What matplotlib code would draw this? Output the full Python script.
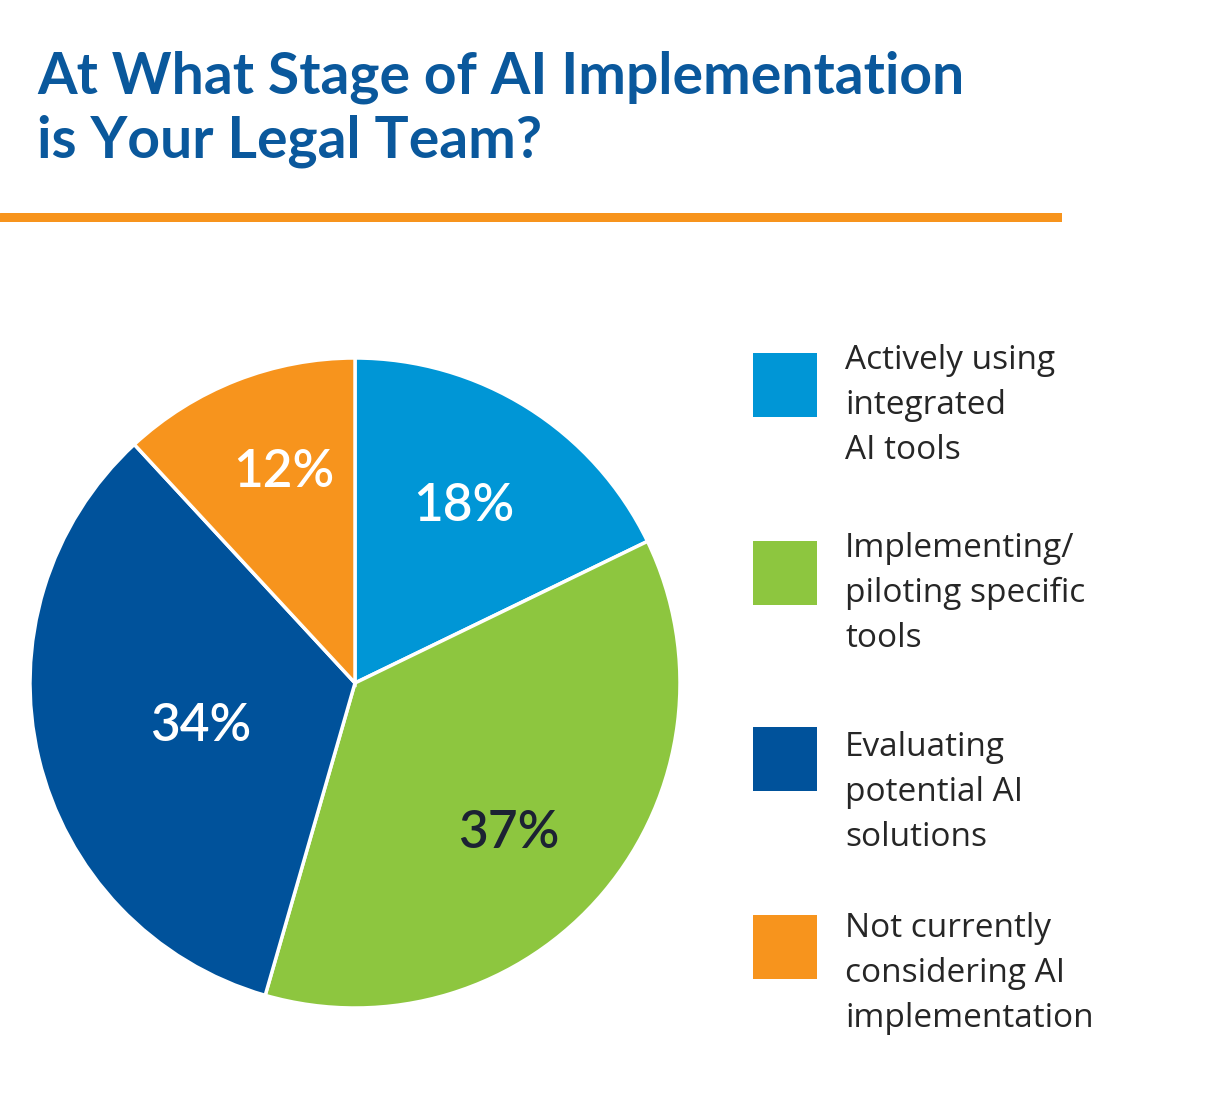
import matplotlib
matplotlib.use("Agg")
import matplotlib.pyplot as plt
import numpy as np

categories = ["Actively using\nintegrated\nAI tools",
              "Implementing/\npiloting specific\ntools",
              "Evaluating\npotential AI\nsolutions",
              "Not currently\nconsidering AI\nimplementation"]
values = [18, 37, 34, 12]
pct_labels = ["18%", "37%", "34%", "12%"]
colors = ["#0096D6", "#8DC63F", "#00529B", "#F7941D"]
label_colors = ["white", "#1c2233", "white", "white"]
label_dist = [0.65, 0.653, 0.489, 0.697]
label_shift_deg = [1.0, -3.4, 0.9, -3.1]

W, H = 1210, 1114
fig = plt.figure(figsize=(W / 100, H / 100), dpi=100)
fig.patch.set_facecolor("white")
FONT = "Lato"
LFONT = "Open Sans"

def fx(px):
    return px / W

def fy(py):
    return 1 - py / H

# Title
fig.text(fx(37), fy(93), "At What Stage of AI Implementation", fontsize=41,
         fontweight="bold", color="#0A589C", family=FONT, va="baseline", ha="left")
fig.text(fx(37), fy(157), "is Your Legal Team?", fontsize=41,
         fontweight="bold", color="#0A589C", family=FONT, va="baseline", ha="left")

# Orange rule
line_ax = fig.add_axes([0, fy(222), fx(1062), 9 / H])
line_ax.set_axis_off()
line_ax.add_patch(plt.Rectangle((0, 0), 1, 1, color="#F7941D", transform=line_ax.transAxes))

# Pie
cx, cy, r = 355, 683, 325
ax = fig.add_axes([fx(cx - r), fy(cy + r), 2 * r / W, 2 * r / H])
wedges, _ = ax.pie(values, colors=colors, startangle=90, counterclock=False,
                   wedgeprops=dict(edgecolor="white", linewidth=2.5))
ax.set_xlim(-1, 1)
ax.set_ylim(-1, 1)
ax.set_aspect("equal")
cap_half = 19 / r
for w, lab, lc, d, sh in zip(wedges, pct_labels, label_colors, label_dist, label_shift_deg):
    ang = np.deg2rad((w.theta1 + w.theta2) / 2 + sh)
    ax.text(d * np.cos(ang), d * np.sin(ang) - cap_half, lab, ha="center", va="baseline",
            fontsize=37, color=lc, family=FONT, fontweight="semibold")

# Legend
sq_tops = [353, 541, 727, 915]
first_baselines = [369, 557, 756, 937]
for cat, col, top, base in zip(categories, colors, sq_tops, first_baselines):
    sq = fig.add_axes([fx(753), fy(top + 64), 64 / W, 64 / H])
    sq.set_axis_off()
    sq.add_patch(plt.Rectangle((0, 0), 1, 1, color=col, transform=sq.transAxes))
    for i, line in enumerate(cat.split("\n")):
        fig.text(fx(845), fy(base + 45 * i), line, fontsize=24, color="#262626",
                 family=LFONT, va="baseline", ha="left")

fig.savefig("out.png", dpi=100, facecolor="white")
